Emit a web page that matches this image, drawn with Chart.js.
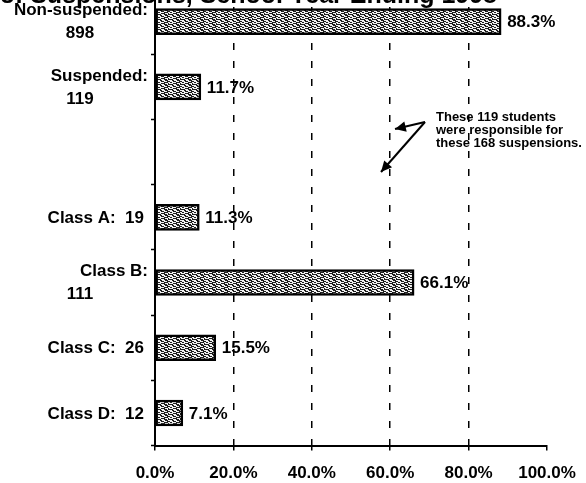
<!DOCTYPE html>
<html>
<head>
<meta charset="utf-8">
<script src="https://cdn.jsdelivr.net/npm/chart.js@4.4.0/dist/chart.umd.min.js"></script>
<style>
html, body { margin: 0; padding: 0; background: #fff; overflow: hidden; }
#wrap { position: relative; width: 586px; height: 483px; overflow: hidden; }
#holder { position: absolute; left: 0; top: -40px; width: 586px; height: 539px; }
</style>
</head>
<body>
<div id="wrap"><div id="holder"><canvas id="chart"></canvas></div></div>
<script>
const titleText = "of Suspensions, School Year Ending 1998";
const categories = [["Non-suspended:", "898"], ["Suspended:", "119"], "", "Class A:  19", ["Class B:", "111"], "Class C:  26", "Class D:  12"];
const percents = [88.3, 11.7, null, 11.3, 66.1, 15.5, 7.1];
const xTickValues = [0, 20, 40, 60, 80, 100];
const noteLines = ["These 119 students", "were responsible for", "these 168 suspensions."];

const SHIFT = 40; // canvas is moved up so the top of the chart is cut like the scan
const FONT = "'Liberation Sans', Arial, sans-serif";

function makeTexture() {
    let c = document.createElement("canvas");
    c.width = 12;
    c.height = 5;
    let g = c.getContext("2d");
    g.fillStyle = "#1e1e1e";
    g.fillRect(0, 0, 12, 5);
    g.fillStyle = "#f2f2f2";
    g.fillRect(0, 0, 4, 1);
    g.fillRect(6, 0, 3, 1);
    g.fillRect(2, 1, 3, 1);
    g.fillRect(8, 1, 3, 1);
    g.fillRect(0, 2, 2, 1);
    g.fillRect(4, 2, 4, 1);
    g.fillRect(1, 3, 4, 1);
    g.fillRect(9, 3, 3, 1);
    g.fillRect(5, 4, 3, 1);
    g.fillRect(11, 4, 1, 1);
    return g.createPattern(c, "repeat");
}

const titlePlugin = {
    id: "scanTitle",
    afterDraw(chart) {
        let ctx = chart.ctx;
        ctx.save();
        ctx.font = "bold 25px " + FONT;
        ctx.fillStyle = "#000";
        ctx.textAlign = "right";
        ctx.textBaseline = "alphabetic";
        ctx.fillText(titleText, 497, SHIFT + 3);
        ctx.restore();
    },
};

const categoryLabels = {
    id: "categoryLabels",
    afterDraw(chart) {
        let ctx = chart.ctx;
        let yScale = chart.scales.y;
        ctx.save();
        ctx.font = "bold 17px " + FONT;
        ctx.fillStyle = "#000";
        ctx.textBaseline = "middle";
        categories.forEach((lab, i) => {
            let y = yScale.getPixelForValue(i);
            if (Array.isArray(lab)) {
                ctx.textAlign = "right";
                ctx.fillText(lab[0], 148, y - 11);
                ctx.textAlign = "center";
                ctx.fillText(lab[1], 80, y + 12);
            } else if (lab) {
                ctx.textAlign = "right";
                ctx.fillText(lab, 144, y + 1);
            }
        });
        ctx.restore();
    },
};

const valueLabels = {
    id: "valueLabels",
    afterDatasetsDraw(chart) {
        let ctx = chart.ctx;
        let meta = chart.getDatasetMeta(0);
        ctx.save();
        ctx.font = "bold 17px " + FONT;
        ctx.fillStyle = "#000";
        ctx.textAlign = "left";
        ctx.textBaseline = "middle";
        meta.data.forEach((bar, i) => {
            if (percents[i] == null) return;
            ctx.fillText(percents[i].toFixed(1) + "%", bar.x + 6, bar.y + 1);
        });
        ctx.restore();
    },
};

function arrow(ctx, x1, y1, x2, y2) {
    let a = Math.atan2(y2 - y1, x2 - x1);
    ctx.beginPath();
    ctx.moveTo(x1, y1);
    ctx.lineTo(x2, y2);
    ctx.stroke();
    ctx.beginPath();
    ctx.moveTo(x2, y2);
    ctx.lineTo(x2 - 12 * Math.cos(a - 0.45), y2 - 12 * Math.sin(a - 0.45));
    ctx.lineTo(x2 - 12 * Math.cos(a + 0.45), y2 - 12 * Math.sin(a + 0.45));
    ctx.closePath();
    ctx.fill();
}

const notePlugin = {
    id: "note",
    afterDraw(chart) {
        let ctx = chart.ctx;
        ctx.save();
        ctx.font = "bold 13px " + FONT;
        ctx.fillStyle = "#000";
        ctx.strokeStyle = "#000";
        ctx.textAlign = "left";
        ctx.textBaseline = "middle";
        noteLines.forEach((t, i) => ctx.fillText(t, 436, SHIFT + 117 + i * 13));
        ctx.lineWidth = 2;
        arrow(ctx, 425, SHIFT + 122, 395, SHIFT + 129);
        arrow(ctx, 425, SHIFT + 122, 381, SHIFT + 172);
        ctx.restore();
    },
};

new Chart(document.getElementById("chart"), {
    type: "bar",
    data: {
        labels: categories,
        datasets: [
            {
                data: percents,
                backgroundColor: makeTexture(),
                borderColor: "#000",
                borderWidth: 2.5,
                borderSkipped: false,
                barThickness: 26,
            },
        ],
    },
    options: {
        indexAxis: "y",
        responsive: true,
        maintainAspectRatio: false,
        animation: false,
        layout: { padding: { top: 29, right: 39, bottom: 2, left: 0 } },
        plugins: {
            legend: { display: false },
            title: { display: false },
            tooltip: { enabled: false },
        },
        scales: {
            x: {
                min: 0,
                max: 100,
                afterBuildTicks: (s) => {
                    s.ticks = xTickValues.map((v) => ({ value: v }));
                },
                afterFit: (s) => {
                    s.paddingLeft = 0;
                    s.paddingRight = 0;
                },
                ticks: {
                    color: "#000",
                    padding: 13,
                    font: { family: FONT, size: 17, weight: "bold" },
                    callback: (v) => v.toFixed(1) + "%",
                },
                grid: {
                    color: (ctx) =>
                        ctx.tick && ctx.tick.value > 0 && ctx.tick.value < 100 ? "#000" : "rgba(0,0,0,0)",
                    lineWidth: 1.5,
                    tickColor: "#000",
                    tickLength: 5,
                    tickWidth: 1.5,
                },
                border: { display: true, color: "#000", width: 2, dash: [7, 11] },
            },
            y: {
                offset: true,
                afterFit: (s) => {
                    s.width = 155;
                },
                ticks: { display: false },
                grid: {
                    offset: true,
                    drawOnChartArea: false,
                    color: "#000",
                    tickColor: "#000",
                    tickLength: 4,
                    tickWidth: 1.5,
                },
                border: { display: true, color: "#000", width: 2 },
            },
        },
    },
    plugins: [titlePlugin, categoryLabels, valueLabels, notePlugin],
});
</script>
</body>
</html>
